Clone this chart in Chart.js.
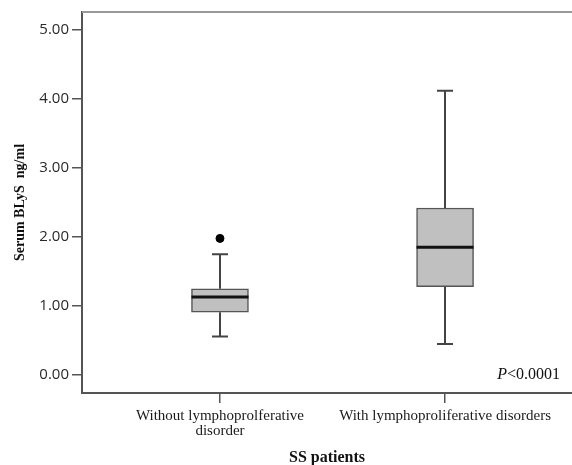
<!DOCTYPE html>
<html>
<head>
<meta charset="utf-8">
<script src="https://cdn.jsdelivr.net/npm/chart.js@4.4.0/dist/chart.umd.min.js"></script>
<style>
  html, body { margin: 0; padding: 0; background: #fff; }
  #wrap { width: 572px; height: 465px; }
</style>
</head>
<body>
<div id="wrap"><canvas id="box-chart" width="572" height="465"></canvas></div>
<script>
// groups on the x axis (positions 1 and 2)
var groupLabels = [['Without lymphoprolferative', 'disorder'], ['With lymphoproliferative disorders']];
var groupPos = [1, 2];

// box plot values
var whiskerLow = [0.56, 0.45];
var quartile1 = [0.91, 1.28];
var medians = [1.13, 1.85];
var quartile3 = [1.25, 2.42];
var whiskerHigh = [1.75, 4.12];
var outlierVals = [[1.98], []];

var yTicks = [0, 1, 2, 3, 4, 5];
var pText = '<0.0001';

var boxData = groupPos.map(function (g, i) {
    return { x: g, y: [quartile1[i], quartile3[i]] };
});
var outlierData = [];
outlierVals.forEach(function (vals, i) {
    vals.forEach(function (v) { outlierData.push({ x: groupPos[i], y: v }); });
});

// whiskers, caps, medians, top frame line and the p value
var boxParts = {
    id: 'boxParts',
    afterDatasetsDraw: function (chart) {
        var ctx = chart.ctx, xs = chart.scales.x, ys = chart.scales.y;
        var area = chart.chartArea;
        var bars = chart.getDatasetMeta(0).data;
        ctx.save();
        groupPos.forEach(function (g, i) {
            var cx = Math.round(xs.getPixelForValue(g));
            var cap = 8;
            ctx.strokeStyle = '#444';
            ctx.lineWidth = 2;
            ctx.beginPath();
            ctx.moveTo(cx, ys.getPixelForValue(quartile3[i]));
            ctx.lineTo(cx, ys.getPixelForValue(whiskerHigh[i]));
            ctx.moveTo(cx, ys.getPixelForValue(quartile1[i]));
            ctx.lineTo(cx, ys.getPixelForValue(whiskerLow[i]));
            ctx.moveTo(cx - cap, ys.getPixelForValue(whiskerHigh[i]));
            ctx.lineTo(cx + cap, ys.getPixelForValue(whiskerHigh[i]));
            ctx.moveTo(cx - cap, ys.getPixelForValue(whiskerLow[i]));
            ctx.lineTo(cx + cap, ys.getPixelForValue(whiskerLow[i]));
            ctx.stroke();

            var half = bars[i].width / 2;
            var my = ys.getPixelForValue(medians[i]);
            ctx.strokeStyle = '#111';
            ctx.lineWidth = 3;
            ctx.beginPath();
            ctx.moveTo(cx - half, my);
            ctx.lineTo(cx + half, my);
            ctx.stroke();
        });

        ctx.strokeStyle = '#999';
        ctx.lineWidth = 2;
        ctx.beginPath();
        ctx.moveTo(area.left, area.top);
        ctx.lineTo(area.right, area.top);
        ctx.stroke();

        ctx.fillStyle = '#111';
        ctx.textBaseline = 'alphabetic';
        ctx.font = 'italic 16px "Liberation Serif"';
        var wP = ctx.measureText('P').width;
        ctx.font = '16px "Liberation Serif"';
        var wRest = ctx.measureText(pText).width;
        var px = area.right - 12 - wP - wRest;
        var py = ys.getPixelForValue(0) + 4;
        ctx.font = 'italic 16px "Liberation Serif"';
        ctx.fillText('P', px, py);
        ctx.font = '16px "Liberation Serif"';
        ctx.fillText(pText, px + wP, py);
        ctx.restore();
    }
};

const ctx = document.getElementById('box-chart').getContext('2d');

const chart = new Chart(ctx, {
    type: 'bar',
    data: {
        datasets: [
            {
                label: 'box',
                data: boxData,
                backgroundColor: '#c0c0c0',
                borderColor: '#555',
                borderWidth: 1.5,
                borderSkipped: false,
                barThickness: 57,
            },
            {
                type: 'scatter',
                label: 'outliers',
                data: outlierData,
                backgroundColor: '#000',
                borderColor: '#000',
                pointRadius: 4,
            },
        ]
    },
    options: {
        responsive: false,
        animation: false,
        devicePixelRatio: 1,
        layout: { autoPadding: false, padding: { top: 11, right: 0, bottom: 0, left: 0 } },
        plugins: {
            legend: { display: false },
            tooltip: { enabled: false },
        },
        scales: {
            x: {
                type: 'linear',
                min: 0.387,
                max: 2.564,
                offset: false,
                afterBuildTicks: function (s) { s.ticks = groupPos.map(function (v) { return { value: v }; }); },
                afterFit: function (s) {
                    s.height = 72;
                    s.paddingLeft = 0;
                    s.paddingRight = 0;
                },
                grid: { offset: false, drawOnChartArea: false, drawTicks: true, tickLength: 10, color: '#555', lineWidth: 1.5 },
                border: { display: true, color: '#555', width: 2 },
                ticks: {
                    callback: function (v) { return groupLabels[groupPos.indexOf(v)]; },
                    color: '#1a1a1a',
                    font: { family: 'Liberation Serif', size: 15, lineHeight: 0.97 },
                    padding: 6,
                    autoSkip: false,
                    maxRotation: 0,
                },
                title: {
                    display: true,
                    text: 'SS patients',
                    color: '#111',
                    font: { family: 'Liberation Serif', size: 16, weight: 'bold', lineHeight: 1 },
                    padding: { top: 0, bottom: -1 },
                },
            },
            y: {
                min: -0.26,
                max: 5.26,
                afterBuildTicks: function (s) { s.ticks = yTicks.map(function (v) { return { value: v }; }); },
                afterFit: function (s) { s.width = 82; },
                grid: { drawOnChartArea: false, tickLength: 10, color: '#555', lineWidth: 1.5 },
                border: { display: true, color: '#555', width: 2 },
                ticks: {
                    callback: function (v) { return v.toFixed(2); },
                    color: '#2a2a2a',
                    font: { family: 'Open Sans', size: 15 },
                    padding: 3,
                },
                title: {
                    display: true,
                    text: 'Serum BLyS  ng/ml',
                    color: '#111',
                    font: { family: 'Liberation Serif', size: 14, weight: 'bold' },
                    padding: { top: 11.6, bottom: 0 },
                },
            },
        }
    },
    plugins: [boxParts]
});
</script>
</body>
</html>
